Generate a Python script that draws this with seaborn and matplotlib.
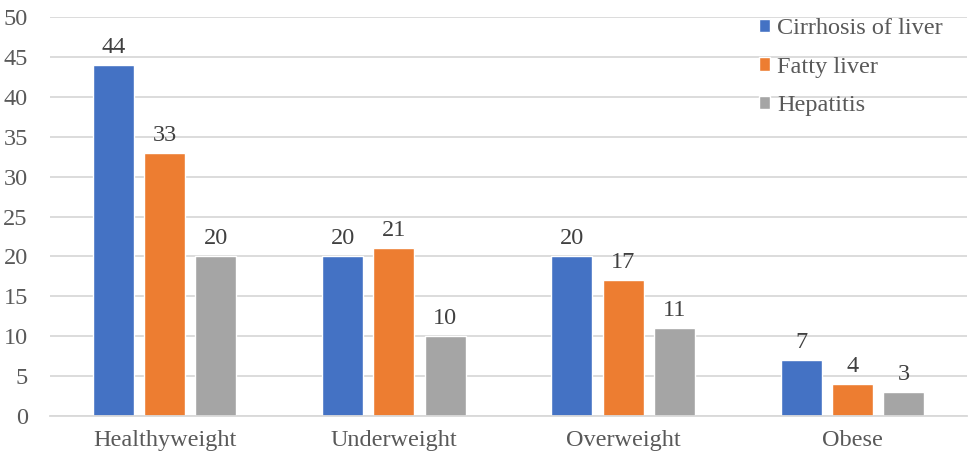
import matplotlib
matplotlib.use("Agg")
import matplotlib.pyplot as plt
import seaborn as sns
import pandas as pd

categories = ["Healthyweight", "Underweight", "Overweight", "Obese"]
series_names = ["Cirrhosis of liver", "Fatty liver", "Hepatitis"]
cirrhosis = [44, 20, 20, 7]
fatty = [33, 21, 17, 4]
hepatitis = [20, 10, 11, 3]
colors = ["#4472C4", "#ED7D31", "#A5A5A5"]

rows = []
for name, vals in zip(series_names, [cirrhosis, fatty, hepatitis]):
    for c, v in zip(categories, vals):
        rows.append({"cat": c, "series": name, "value": v})
df = pd.DataFrame(rows)

sns.set_theme(style="white")
plt.rcParams["font.family"] = ["Liberation Serif", "DejaVu Serif"]
text_color = "#595959"
fs = 17.5

fig = plt.figure(figsize=(9.75, 4.62), dpi=100)
ax = fig.add_axes([50/975, 1 - 416/462, 917/975, (416 - 17)/462])

sns.barplot(data=df, x="cat", y="value", hue="series", order=categories,
            hue_order=series_names, palette=colors, width=0.67, gap=0.2,
            saturation=1, ax=ax, legend=True)

for cont in ax.containers:
    ax.bar_label(cont, padding=5, fontsize=fs, color="#404040")

ax.set_ylim(0, 50)
ax.set_xlim(-0.5, 3.5)
ax.set_yticks(range(0, 51, 5))
ax.yaxis.grid(True, color="#D9D9D9", linewidth=1.3)
ax.set_axisbelow(True)
for s in ["left", "right", "top"]:
    ax.spines[s].set_visible(False)
ax.spines["bottom"].set_color("#D9D9D9")
ax.spines["bottom"].set_linewidth(1.3)
ax.set_xlabel("")
ax.set_ylabel("")
ax.tick_params(axis="both", length=0, labelsize=fs, colors=text_color)
ax.tick_params(axis="x", pad=10)
ax.tick_params(axis="y", pad=16)

leg = ax.legend(loc="upper left", bbox_to_anchor=(0.749, 1.052), frameon=False,
                fontsize=fs, handlelength=0.45, handleheight=0.45,
                handletextpad=0.3, labelspacing=0.72)
for t in leg.get_texts():
    t.set_color(text_color)

fig.savefig("out.png", dpi=100)
